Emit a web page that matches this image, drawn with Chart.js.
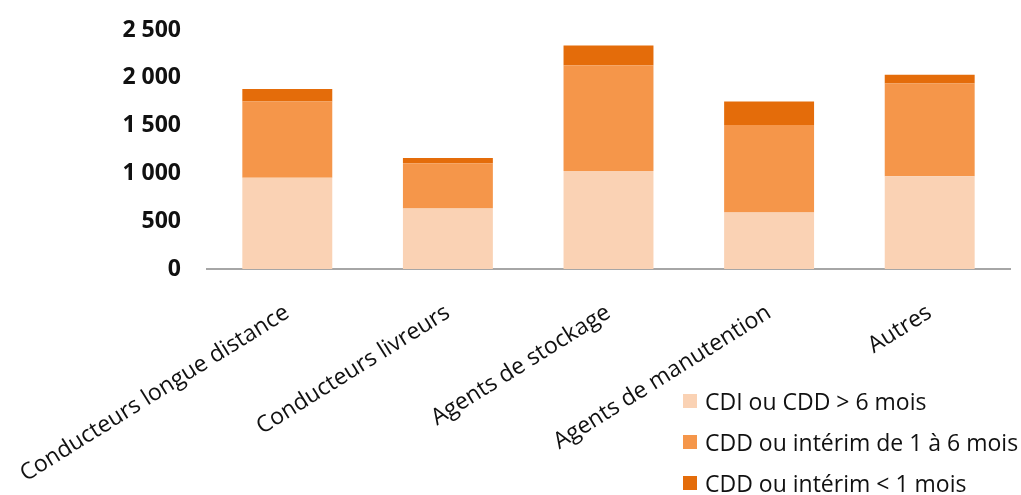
<!DOCTYPE html>
<html><head><meta charset="utf-8">
<script src="https://cdn.jsdelivr.net/npm/chart.js@4"></script>
<style>
html,body{margin:0;padding:0;background:#fff;}
#wrap{position:relative;width:1021px;height:495px;overflow:hidden;}
#legend{position:absolute;left:683px;top:380px;font-family:'Open Sans';font-size:23px;color:#111;}
.item{display:flex;align-items:center;height:41px;white-space:nowrap;}
.sw{width:14px;height:14px;margin-right:8px;flex:none;}
</style></head><body>
<div id="wrap"><canvas id="c" width="1021" height="495"></canvas><div id="legend"></div></div>
<script>
const categories = ['Conducteurs longue distance', 'Conducteurs livreurs', 'Agents de stockage', 'Agents de manutention', 'Autres'];
const seriesNames = ['CDI ou CDD > 6 mois', 'CDD ou intérim de 1 à 6 mois', 'CDD ou intérim < 1 mois'];
const cdiOuCddLong = [955, 632, 1024, 590, 969];
const cddInterim1a6 = [798, 475, 1108, 917, 972];
const cddInterimMoins1 = [129, 53, 205, 246, 90];
const yTickLabels = ['0', '500', '1 000', '1 500', '2 000', '2 500'];
const colors = ['#FAD2B4', '#F5964A', '#E46C0A'];

const seriesValues = [cdiOuCddLong, cddInterim1a6, cddInterimMoins1];
const datasets = seriesValues.map((vals, i) => ({
  label: seriesNames[i],
  data: vals,
  backgroundColor: colors[i],
  borderWidth: 0,
  categoryPercentage: 1,
  barPercentage: 0.56
}));

new Chart(document.getElementById('c'), {
  type: 'bar',
  data: { labels: categories, datasets },
  options: {
    responsive: false,
    animation: false,
    events: [],
    layout: { padding: { top: 30, right: 11, left: 0, bottom: 0 } },
    plugins: { legend: { display: false }, tooltip: { enabled: false } },
    scales: {
      x: {
        stacked: true,
        grid: { display: false, drawTicks: false },
        border: { display: true, color: '#A6A6A6', width: 2 },
        ticks: {
          autoSkip: false, minRotation: 32, maxRotation: 32, padding: 30,
          color: '#111', font: { family: 'Open Sans', size: 23 }
        },
        afterFit: s => { s.height = 226; s.paddingLeft = 0; s.paddingRight = 0; }
      },
      y: {
        stacked: true, min: 0, max: 2500,
        grid: { display: false, drawTicks: false },
        border: { display: false },
        ticks: {
          stepSize: 500, padding: 26, color: '#111',
          font: { family: 'Open Sans', size: 23, weight: 'bold' },
          callback: (v, i) => yTickLabels[i]
        },
        afterFit: s => { s.width = 207; s.paddingTop = 0; s.paddingBottom = 0; }
      }
    }
  }
});

const leg = document.getElementById('legend');
seriesNames.forEach((n, i) => {
  const it = document.createElement('div'); it.className = 'item';
  const sw = document.createElement('span'); sw.className = 'sw'; sw.style.background = colors[i];
  const tx = document.createElement('span'); tx.textContent = n;
  it.appendChild(sw); it.appendChild(tx); leg.appendChild(it);
});
</script>
</body></html>
